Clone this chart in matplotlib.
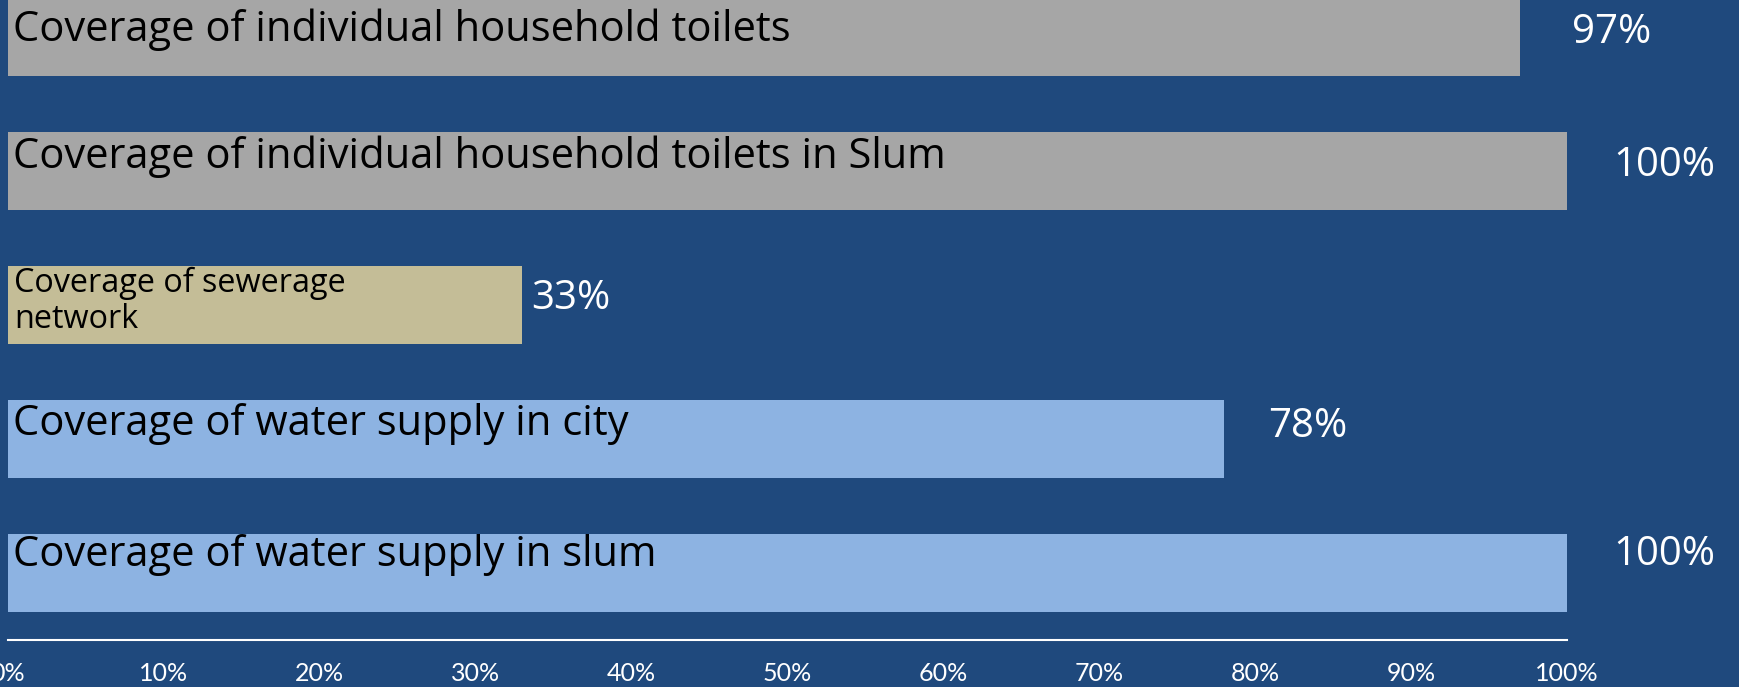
import numpy as np
import matplotlib
matplotlib.use('Agg')
from matplotlib import pyplot as plt

# bottom to top, as drawn
categories = ['Coverage of water supply in slum',
              'Coverage of water supply in city',
              'Coverage of sewerage\nnetwork',
              'Coverage of individual household toilets in Slum',
              'Coverage of individual household toilets']
values = [1.00, 0.78, 0.33, 1.00, 0.97]
value_labels = ['100%', '78%', '33%', '100%', '97%']
tick_vals = [0, 0.1, 0.2, 0.3, 0.4, 0.5, 0.6, 0.7, 0.8, 0.9, 1.0]
tick_labels = ['0%', '10%', '20%', '30%', '40%', '50%', '60%', '70%', '80%', '90%', '100%']

bg = '#1F497D'
bar_colors = ['#8DB3E2', '#8DB3E2', '#C4BD97', '#A6A6A6', '#A6A6A6']
# manual label nudges (pixels), like the hand-placed labels in the slide
val_dx = [46, 44, 9, 46, 52]
val_dy = [8, 2, -4, -5, -6]
cat_dy = [-32, -35, 0, -36, -43]
cat_size = [30, 30, 23.3, 30, 30]

plt.rcParams['font.family'] = ['Open Sans', 'DejaVu Sans']

fig = plt.figure(figsize=(17.4, 6.87), dpi=100, facecolor=bg)
ax = fig.add_axes([8/1740, 47/687, 1559/1740, 640/687])
ax.set_facecolor(bg)

y = np.arange(len(categories))
h = 0.575
ax.barh(y, values, height=h, color=bar_colors)

for i in range(len(categories)):
    if '\n' in categories[i]:
        ax.annotate(categories[i], (0, y[i] + h/2), xytext=(6, cat_dy[i]), textcoords='offset pixels',
                    ha='left', va='top', fontsize=cat_size[i], color='black', linespacing=1.15,
                    annotation_clip=False)
    else:
        ax.annotate(categories[i], (0, y[i] + h/2), xytext=(5, cat_dy[i]), textcoords='offset pixels',
                    ha='left', va='baseline', fontsize=cat_size[i], color='black',
                    annotation_clip=False)
    ax.annotate(value_labels[i], (values[i], y[i]), xytext=(val_dx[i], val_dy[i]), textcoords='offset pixels',
                ha='left', va='baseline', fontsize=29, color='white', annotation_clip=False)

ax.set_xlim(0, 1)
ax.set_ylim(-0.5, 4.276)
ax.set_xticks(tick_vals)
ax.set_xticklabels(tick_labels, family=['Lato', 'DejaVu Sans'])
ax.tick_params(axis='x', length=0, colors='white', labelsize=18, pad=16)
ax.set_yticks([])
for s in ['top', 'right', 'left']:
    ax.spines[s].set_visible(False)
ax.spines['bottom'].set_color('white')
ax.spines['bottom'].set_linewidth(1.5)

plt.savefig('out.png', dpi=100, facecolor=bg)
